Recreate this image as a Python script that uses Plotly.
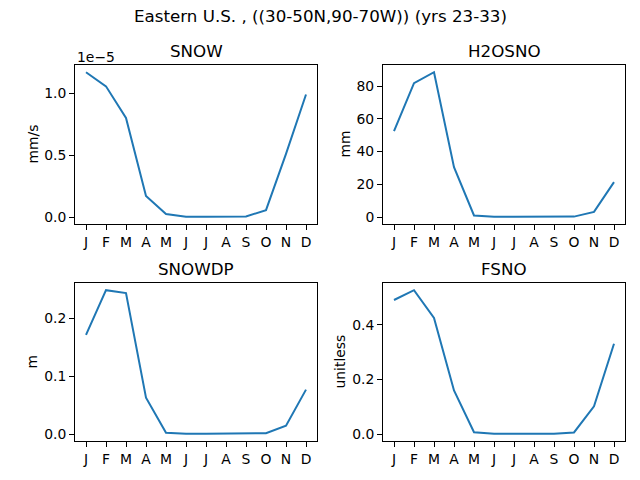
import plotly.graph_objects as go

months = ["J", "F", "M", "A", "M", "J", "J", "A", "S", "O", "N", "D"]
month_idx = list(range(12))

# monthly means, Eastern U.S.
snow = [1.17e-5, 1.056e-5, 0.80e-5, 0.17e-5, 0.024e-5, 0.002e-5,
        0.002e-5, 0.002e-5, 0.004e-5, 0.056e-5, 0.51e-5, 0.99e-5]  # mm/s
h2osno = [52.5, 81.8, 88.5, 30.5, 1.0, 0.2, 0.2, 0.2, 0.2, 0.3, 3.2, 21.4]  # mm
snowdp = [0.171, 0.248, 0.243, 0.063, 0.003, 0.001, 0.001, 0.001, 0.001, 0.002, 0.015, 0.077]  # m
fsno = [0.491, 0.527, 0.425, 0.16, 0.007, 0.001, 0.001, 0.001, 0.001, 0.006, 0.102, 0.331]  # unitless

panels = [
    ("SNOW", "mm/s", snow, [0, 0.5e-5, 1e-5], ["0.0", "0.5", "1.0"]),
    ("H2OSNO", "mm", h2osno, [0, 20, 40, 60, 80], ["0", "20", "40", "60", "80"]),
    ("SNOWDP", "m", snowdp, [0, 0.1, 0.2], ["0.0", "0.1", "0.2"]),
    ("FSNO", "unitless", fsno, [0, 0.2, 0.4], ["0.0", "0.2", "0.4"]),
]

W, H = 640, 480
# axes boxes in pixels (left, right, top, bottom)
boxes = [(75, 317, 65, 224), (383, 625, 65, 224), (75, 317, 283, 441), (383, 625, 283, 441)]
ylabel_x = [32, 344, 31.5, 339.5]

font = dict(family="DejaVu Sans", size=13.9, color="black")
big = dict(family="DejaVu Sans", size=16.7, color="black")
fig = go.Figure()
layout = {}
annotations = []

for i, ((name, unit, vals, tv, tt), (l, r, t, b)) in enumerate(zip(panels, boxes)):
    n = "" if i == 0 else str(i + 1)
    fig.add_trace(go.Scatter(x=month_idx, y=vals, mode="lines",
                             line=dict(color="#1f77b4", width=2),
                             xaxis="x" + n, yaxis="y" + n, showlegend=False))
    lo, hi = min(vals), max(vals)
    pad = (hi - lo) * 0.05
    common = dict(showline=True, mirror=True, linecolor="black", linewidth=1,
                  ticks="outside", ticklen=5, tickcolor="black", showgrid=False,
                  zeroline=False, tickfont=font)
    layout["xaxis" + n] = dict(domain=[l / W, r / W], anchor="y" + n,
                               range=[-0.55, 11.55], tickvals=month_idx, ticktext=months,
                               **common)
    layout["yaxis" + n] = dict(domain=[1 - b / H, 1 - t / H], anchor="x" + n,
                               range=[lo - pad, hi + pad], tickvals=tv, ticktext=tt,
                               **common)
    # panel title
    annotations.append(dict(text=name, x=(l + r) / 2 / W, y=1 - (t - 2) / H,
                            xref="paper", yref="paper", xanchor="center", yanchor="bottom",
                            showarrow=False, font=big))
    # y label
    annotations.append(dict(text=unit, x=ylabel_x[i] / W, y=1 - (t + b) / 2 / H,
                            xref="paper", yref="paper", xanchor="center", yanchor="middle",
                            textangle=-90, showarrow=False, font=font))

annotations.append(dict(text="1e\u22125", x=75 / W, y=1 - 67 / H, xref="paper", yref="paper",
                        xanchor="left", yanchor="bottom", showarrow=False, font=font))
annotations.append(dict(text="Eastern U.S. , ((30-50N,90-70W)) (yrs 23-33)", x=0.5, y=1 - 4 / H,
                        xref="paper", yref="paper", xanchor="center", yanchor="top",
                        showarrow=False, font=big))

fig.update_layout(width=W, height=H, margin=dict(l=0, r=0, t=0, b=0),
                  plot_bgcolor="white", paper_bgcolor="white",
                  annotations=annotations, **layout)

# drop the page's default body margin so the figure sits at the window corner
fig.write_html("out.html", config={"displayModeBar": False},
               post_script="document.body.style.margin='0';document.body.style.overflow='hidden';")
